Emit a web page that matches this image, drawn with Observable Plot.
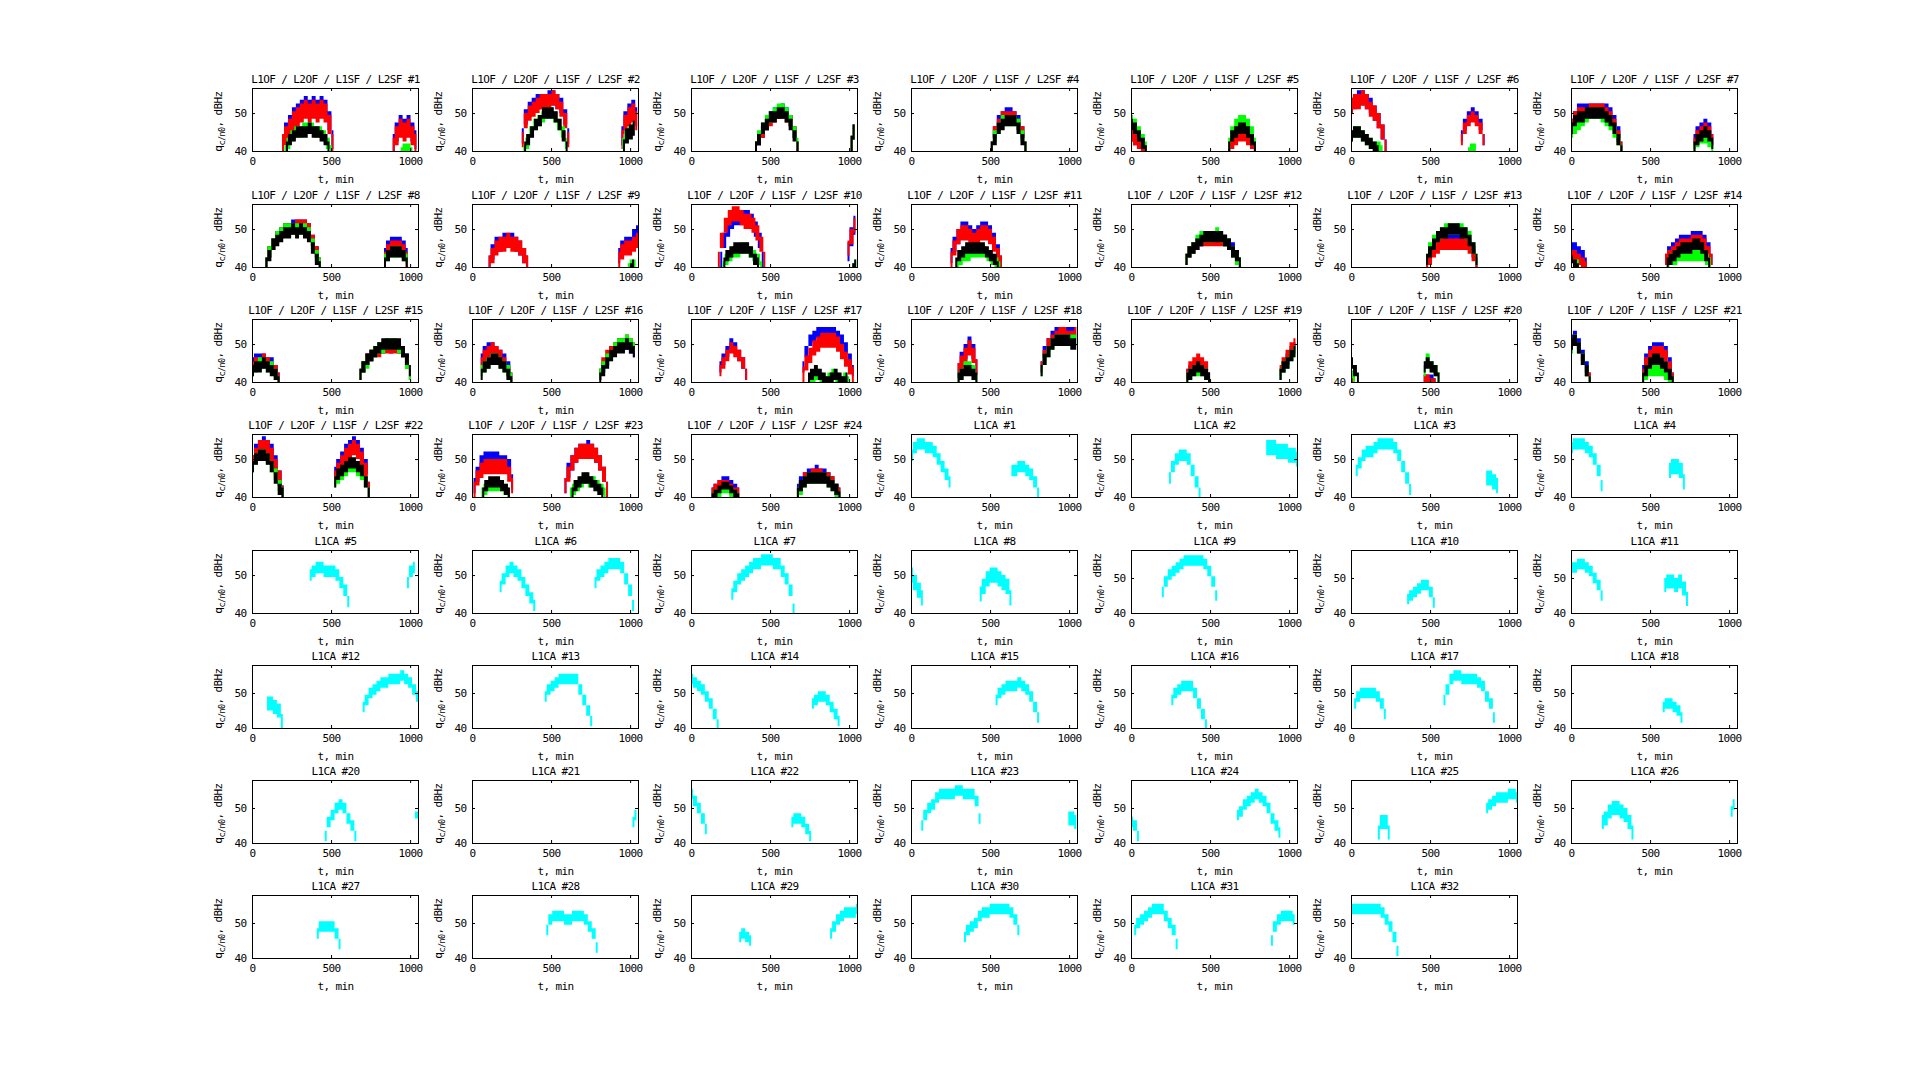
<!DOCTYPE html>
<html><head><meta charset="utf-8">
<script src="https://cdn.jsdelivr.net/npm/d3@7"></script>
<script src="https://cdn.jsdelivr.net/npm/@observablehq/plot@0.6"></script>
<style>
html,body{margin:0;padding:0;background:#fff;}
#root{position:relative;width:1920px;height:1090px;overflow:hidden;background:#fff;}
#root svg{position:absolute;overflow:visible;}
</style></head><body><div id="root"></div>
<script>
// ---------------- data ----------------
// each arc: [start time (min), noise spread (dBHz), values every STEP minutes]
const STEP = 25;
const seriesNames = ["L1OF", "L2OF", "L1SF", "L2SF"];
const seriesColors = ["#0000ff", "#ff0000", "#00ff00", "#000000"];
const caColor = "#00ffff";
const xTicks = [0, 500, 1000];
const yTicks = [40, 50];
const xDomain = [0, 1050];
const mixIds = [1,2,3,4,5,6,7,8,9,10,11,12,13,14,15,16,17,18,19,20,21,22,23,24];
const mixYMax = 56.6;
const caIds = [1,2,3,4,5,6,7,8,9,10,11,12,13,14,15,16,17,18,20,21,22,23,24,25,26,27,28,29,30,31,32];
const caYMax = [56.6,56.6,56.6,56.6,56.6,56.6,56.6,56.6,58,58,58,58,58,58,58,58,58,58,58,58,58,58,58,58,58,58,58,58,58,58,58];

const L1OF = [
 [[190,5,[42,45,47,49,50,51,52,51,52,51,52,51,48,43]],[890,5,[42,45,47,46,47,45,43]]],
 [[315,4,[44,49,51,52,53,53,53,54,54,53,52,49,44]],[945,5,[44,48,50,51,49]]],
 [[405,3,[41,43,45,47,49,50,50,51,50,48,45,41]],[1010,4,[42,45]]],
 [[505,3,[41,45,48,49,50,50,49,48,45,41]]],
 [[0,3,[44,43,42,41,40]],[615,3,[41,42,44,45,45,44,43,41]]],
 [[0,4,[52,53,54,54,53,52,50,48,45,41]],[695,3,[44,47,49,50,49,47,43]]],
 [[0,3,[47,49,51,51,51,51,51,51,51,51,50,48,45,41]],[775,3,[43,45,46,47,46,43]]],
 [[85,3,[41,44,46,48,49,50,50,51,51,51,51,50,47,44,41]],[835,4,[43,45,46,46,46,45,43]]],
 [[105,4,[41,44,46,46,47,47,47,46,45,43,41]],[925,4,[43,45,46,46,48,49]]],
 [[185,4,[42,47,50,52,53,53,53,53,52,50,47,42]],[990,5,[44,48,51]]],
 [[250,4,[43,46,48,50,50,49,48,49,50,50,49,47,44,41]]],
 [[345,3,[42,44,45,46,47,48,48,48,48,48,47,46,45,43,41]]],
 [[475,3,[41,43,45,46,47,47,47,47,47,47,47,46,44,41]]],
 [[0,3,[45,45,44,43,41]],[595,3,[42,44,45,46,47,47,47,48,48,48,47,45,42]]],
 [[0,3,[45,46,46,46,45,45,43,41]],[680,3,[42,44,46,47,48,49,49,50,49,50,49,48,46,42]]],
 [[55,3,[46,48,49,49,48,47,46,44,41]],[805,3,[42,44,46,48,49,50,50,50,49,48]]],
 [[180,3,[44,46,48,50,49,47,45,42]],[705,3,[44,48,51,52,53,53,53,53,53,52,51,49,46,43]]],
 [[295,4,[43,46,48,50,48,44]],[820,3,[44,48,50,52,53,53,53,53,53,53]]],
 [[350,3,[42,43,44,44,44,43,41]],[940,3,[42,44,46,48,49]]],
 [[0,2,[41,40]],[460,2,[41,41,41,40]]],
 [[0,3,[51,52,50,47,44,41]],[450,3,[43,46,48,49,49,49,48,45,41]]],
 [[0,4,[49,52,53,54,53,52,49,45,41]],[520,4,[46,48,50,52,53,54,53,51,48,42]]],
 [[10,4,[43,46,49,50,50,50,50,49,49,48,44]],[585,4,[43,47,49,51,52,52,53,52,51,49,46,42]]],
 [[130,3,[41,42,43,44,44,43,42,41]],[670,3,[42,44,45,46,46,47,46,46,45,44,42,41]]]
];
const L2OF = [
 [[190,5,[42,44,46,48,49,50,51,50,51,50,51,50,47,42]],[890,5,[41,44,46,45,46,44,42]]],
 [[315,4,[43,48,50,51,52,53,53,53,54,53,51,48,43]],[945,5,[43,47,49,50,48]]],
 [[405,3,[41,43,45,47,48,49,50,50,49,48,45,41]],[1010,4,[42,45]]],
 [[505,3,[41,45,47,49,49,49,49,47,45,41]]],
 [[0,3,[44,43,42,41,40]],[615,3,[41,42,43,44,44,43,42,40]]],
 [[0,4,[52,53,53,54,53,51,50,48,45,41]],[695,3,[43,46,48,49,48,46,43]]],
 [[0,3,[47,49,50,50,50,51,51,51,51,50,49,47,44,41]],[775,3,[42,44,45,46,45,43]]],
 [[85,3,[41,44,46,48,49,50,50,50,51,51,51,50,47,44,41]],[835,4,[42,44,45,45,45,44,42]]],
 [[105,4,[41,43,45,46,46,47,46,46,45,43,41]],[925,4,[42,44,45,45,46,47]]],
 [[170,4,[42,47,51,53,54,54,53,52,52,51,49,46,42]],[990,4,[45,48,51]]],
 [[250,4,[42,45,48,49,49,48,47,48,49,49,48,46,43,41]]],
 [[345,3,[42,44,45,46,47,47,47,47,47,47,47,46,44,42,41]]],
 [[475,3,[41,42,44,45,46,46,46,46,46,46,46,45,43,41]]],
 [[0,3,[43,43,42,41,40]],[595,3,[42,43,44,45,46,46,46,47,47,47,46,44,42]]],
 [[0,3,[44,45,45,46,45,44,43,41]],[680,3,[42,44,46,47,48,48,49,49,49,49,49,48,45,42]]],
 [[55,3,[45,47,48,49,48,47,45,43,41]],[805,3,[42,45,47,48,49,50,50,51,50,49]]],
 [[180,3,[43,45,47,49,48,47,45,42]],[705,4,[42,45,47,49,50,51,51,51,51,50,48,46,44,42]]],
 [[295,4,[43,45,47,49,47,44]],[820,3,[44,47,50,51,52,53,53,52,52,53]]],
 [[350,3,[42,44,45,46,45,44,41]],[940,3,[43,45,47,49,50]]],
 [[0,2,[41,41]],[460,2,[41,41,40,40]]],
 [[0,3,[50,51,49,46,43,41]],[450,3,[42,45,47,48,48,48,47,44,41]]],
 [[0,4,[49,51,53,53,53,51,48,45,41]],[520,4,[45,47,49,51,52,53,52,50,47,42]]],
 [[10,4,[42,45,47,48,48,48,48,48,48,46,43]],[585,4,[43,46,49,51,52,52,52,52,51,49,46,42]]],
 [[130,3,[41,42,43,43,43,42,41,41]],[670,3,[41,43,45,45,46,46,46,45,45,44,42,41]]]
];
const L1SF = [
 [[205,3,[40,42,44,45,45,46,46,46,45,45,44,42,40]],[940,2,[40,41,41,40]]],
 [[325,3,[40,42,45,47,48,49,50,50,49,47,45,42]],[950,3,[42,44,45,46]]],
 [[405,3,[41,44,46,48,49,50,51,51,50,48,45,42]],[1010,4,[42,45]]],
 [[505,3,[41,44,46,48,48,48,48,47,44,41]]],
 [[0,3,[48,47,45,43,41]],[615,3,[42,45,47,48,48,47,45,42]]],
 [[0,3,[44,45,45,44,43,42,41,41,40]],[740,2,[40,41,41]]],
 [[0,3,[45,46,47,48,49,50,50,50,49,48,47,45,43,40]],[775,2,[41,42,43,43,42,41]]],
 [[85,3,[41,44,46,48,49,50,50,50,50,50,50,49,46,43,41]],[835,3,[42,43,44,44,44,43,42]]],
 [[985,2,[40,41,41]]],
 [[200,3,[40,42,43,44,44,45,45,44,43,42,40]],[1020,2,[40,41]]],
 [[290,3,[41,42,43,43,44,44,44,44,43,42,41,40]]],
 [[345,3,[42,44,45,47,48,48,48,48,49,48,47,46,44,42,41]]],
 [[475,3,[42,45,47,48,49,50,50,50,50,50,49,48,45,42]]],
 [[25,2,[41,41]],[610,3,[41,42,42,43,43,43,43,43,43,43,42,41]]],
 [[0,3,[43,44,45,45,44,44,42,40]],[680,3,[42,44,45,47,48,49,49,50,50,50,49,48,45,42]]],
 [[55,3,[43,44,45,46,46,45,44,43,41]],[805,3,[42,44,46,47,49,50,50,51,50,49]]],
 [[750,3,[40,41,42,41,40,41,42,41,40,41,40]]],
 [[295,3,[41,42,44,44,43,41]],[820,3,[43,46,48,50,51,51,51,51,51,51]]],
 [[350,3,[41,42,43,43,43,42,40]],[940,3,[42,44,45,47,48]]],
 [[0,2,[42,41]],[460,3,[43,46,44,43,41]]],
 [[0,3,[49,51,49,46,43,40]],[450,3,[41,42,43,43,43,43,42,41,40]]],
 [[0,3,[48,50,51,51,50,48,46,43,41]],[520,3,[44,45,46,47,48,48,47,46,44,41]]],
 [[60,3,[41,42,43,43,43,43,42,41]],[620,3,[41,42,43,44,45,44,44,43,42,41]]],
 [[130,2,[40,41,41,42,42,41,41,40]],[670,3,[41,42,44,45,45,45,45,45,44,43,41,40]]]
];
const L2SF = [
 [[215,3,[41,43,44,45,45,45,46,45,45,44,43,41]]],
 [[330,3,[41,43,45,47,48,50,50,50,49,47,44,41]],[955,4,[41,44,45,46]]],
 [[405,3,[41,43,46,47,49,49,50,50,49,47,44,41]],[1010,4,[42,45]]],
 [[505,3,[41,43,46,47,48,48,48,46,43,41]]],
 [[0,3,[47,46,44,42,40]],[615,3,[41,44,45,46,46,45,43,41]]],
 [[0,3,[44,45,45,44,43,42,41,40]]],
 [[0,3,[46,48,49,49,50,50,50,50,50,49,48,46,43,40]],[775,3,[41,43,44,45,44,42]]],
 [[85,3,[41,43,46,47,48,49,49,50,49,50,49,48,45,42,40]],[835,3,[41,43,44,44,44,43,41]]],
 [[1000,2,[40,41]]],
 [[205,3,[41,43,44,45,45,45,45,44,42,41]],[1020,2,[40,41]]],
 [[280,3,[41,43,44,45,45,45,45,45,44,43,42,40]]],
 [[345,3,[42,44,45,46,47,48,48,48,48,48,47,46,44,43,41]]],
 [[475,3,[42,44,46,48,49,49,50,50,50,49,49,47,45,42]]],
 [[0,2,[42,41,40]],[605,3,[41,42,43,44,45,45,45,46,46,45,43,41]]],
 [[0,3,[43,44,44,45,44,43,42,40]],[680,3,[42,44,46,47,48,49,50,50,50,50,50,48,46,43]]],
 [[55,3,[42,44,45,46,46,45,44,42,40]],[805,3,[41,43,45,47,48,49,49,50,49,48]]],
 [[740,3,[41,42,43,42,41,40,41,42,41,40,41]]],
 [[295,3,[41,42,43,43,42,41]],[820,3,[43,46,48,50,51,51,51,51,50,50]]],
 [[350,3,[41,42,43,44,43,42,41]],[940,3,[42,44,45,47,48]]],
 [[0,3,[45,43,41]],[460,3,[44,45,44,43,41]]],
 [[0,3,[50,51,49,46,43,40]],[450,3,[41,43,45,46,46,45,44,42,40]]],
 [[0,3,[48,50,51,51,50,48,45,42,41]],[520,3,[44,46,47,48,49,49,48,47,44,41]]],
 [[65,3,[41,43,44,44,44,43,42,41]],[630,3,[41,43,44,45,45,44,43,42,41]]],
 [[130,2,[40,41,42,43,43,42,41,40]],[670,3,[41,43,44,45,45,45,45,45,44,43,42,40]]]
];
const L1CA = [
 [[0,3,[51,53,54,54,53,53,52,50,48,46,44]],[635,3,[47,47,48,48,47,46,44,41]]],
 [[240,3,[45,48,50,51,51,50,47,44,41]],[855,4,[53,53,53,52,52,52,51,51,50]]],
 [[30,3,[47,49,51,52,52,53,54,54,54,54,53,51,48,45,42]],[855,4,[45,45,44,43]]],
 [[0,3,[53,54,54,54,53,52,50,47,43]],[620,4,[47,48,48,47,44]]],
 [[365,3,[50,51,52,52,51,51,51,50,48,46,43]],[980,3,[48,51,52]]],
 [[175,3,[47,49,51,52,51,50,48,46,44,42]],[775,3,[48,50,51,52,53,53,53,52,49,46,42]]],
 [[255,3,[45,47,49,50,51,52,53,53,54,54,54,53,53,51,49,46,41]]],
 [[0,4,[50,48,46,44]],[435,4,[45,47,49,50,50,49,48,47,44]]],
 [[195,3,[46,49,51,52,53,54,55,55,55,55,55,54,52,49,45]]],
 [[355,3,[44,45,46,47,48,48,46,43]]],
 [[0,3,[53,53,54,54,53,52,50,48,45]],[590,4,[48,49,49,48,49,47,44]]],
 [[95,4,[47,47,46,45,42]],[700,3,[46,48,50,51,52,53,53,54,54,54,55,54,53,51,49]]],
 [[460,3,[49,51,52,53,54,54,54,54,54,51,48,45,42]]],
 [[0,3,[54,53,52,51,49,47,44,41]],[765,3,[47,48,49,49,48,46,44,42]]],
 [[535,3,[48,50,51,52,52,52,53,52,51,49,46,43]]],
 [[255,3,[48,50,51,52,52,52,50,47,44,41]]],
 [[20,3,[47,49,50,50,50,50,49,47,44]],[585,3,[48,51,54,55,55,54,54,54,54,53,52,49,47,43]]],
 [[580,3,[46,47,47,46,45,43]]],
 [[460,3,[42,46,48,50,51,50,47,45,42]],[1030,2,[48,48]]],
 [[1015,3,[46,48]]],
 [[0,3,[54,52,50,47,44]],[635,3,[46,47,47,46,44,42]]],
 [[65,3,[45,48,50,51,53,54,54,54,54,55,55,54,54,54,52,47]],[995,4,[47,47,46]]],
 [[0,3,[46,45,42]],[670,3,[48,49,51,52,53,54,53,52,50,47,45,43]]],
 [[170,4,[43,46,46,43]],[855,3,[50,51,52,53,53,53,54,54,53]]],
 [[195,4,[46,47,49,50,50,49,48,46,43]],[1010,3,[49,51]]],
 [[410,3,[47,49,49,49,49,47,44]]],
 [[470,3,[48,51,52,52,52,51,51,52,52,52,51,49,47,43]]],
 [[305,3,[46,47,46,45]],[880,3,[47,49,51,52,53,53,53,54]]],
 [[335,3,[46,48,49,50,52,53,53,54,54,54,54,54,53,51,48]]],
 [[20,3,[48,50,51,52,53,54,54,54,52,50,48,44]],[885,3,[45,49,51,52,52,52,51]]],
 [[0,3,[54,54,54,54,54,54,54,54,53,51,49,46,42]]]
];

// ---------------- layout ----------------
const COLS = 7, X0 = 251.7, DX = 219.8, Y0 = 88.3, DY = 115.3;
const W = 166, H = 63, ML = 42, MR = 14, MT = 22, MB = 38;
const FONT = "'DejaVu Sans Mono','Liberation Mono',monospace";
const FS = 11;
const root = document.getElementById("root");

function rows(arcs) {
  const out = [];
  arcs.forEach(([t0, s, vals], k) => vals.forEach((v, i) =>
    out.push({t: t0 + STEP * i, lo: v - s / 2, hi: v + s / 2, arc: k})));
  return out;
}

function panel(idx, title, series, ymax) {
  const r = Math.floor(idx / COLS), c = idx % COLS;
  const marks = [];
  for (const [arcs, color] of series) {
    marks.push(Plot.areaY(rows(arcs), {x: "t", y1: "lo", y2: "hi", z: "arc", fill: color, curve: "step", clip: true}));
  }
  marks.push(
    Plot.frame({stroke: "black", strokeWidth: 1}),
    Plot.tickX(xTicks, {x: d => d, insetTop: H - 3, stroke: "black"}),
    Plot.tickX(xTicks, {x: d => d, insetBottom: H - 3, stroke: "black"}),
    Plot.tickY(yTicks, {y: d => d, insetRight: W - 3, stroke: "black"}),
    Plot.tickY(yTicks, {y: d => d, insetLeft: W - 3, stroke: "black"}),
    Plot.axisX(xTicks, {tickSize: 0, tickPadding: 6, label: null, fill: "black", fontSize: FS, tickFormat: d => String(d)}),
    Plot.axisY(yTicks, {tickSize: 0, tickPadding: 6, label: null, fill: "black", fontSize: FS, tickFormat: d => String(d)}),
    Plot.text([title], {frameAnchor: "top", lineAnchor: "bottom", dy: -6, text: d => d, fill: "black", fontSize: FS}),
    Plot.text(["t, min"], {frameAnchor: "bottom", lineAnchor: "bottom", dy: 31, text: d => d, fill: "black", fontSize: FS})
  );
  const svg = Plot.plot({
    width: ML + W + MR, height: MT + H + MB,
    marginLeft: ML, marginRight: MR, marginTop: MT, marginBottom: MB,
    x: {domain: xDomain},
    y: {domain: [40, ymax]},
    style: {fontFamily: FONT, fontSize: FS + "px", letterSpacing: "-0.6px", background: "transparent", color: "black", overflow: "visible"},
    marks
  });
  svg.style.left = (X0 + c * DX - ML) + "px";
  svg.style.top = (Y0 + r * DY - MT) + "px";
  const t = d3.select(svg).append("text")
    .attr("transform", `translate(${ML - 30},${MT + H / 2 + 2}) rotate(-90)`)
    .attr("text-anchor", "middle").attr("font-family", FONT).attr("font-size", FS).attr("fill", "black");
  t.append("tspan").text("q");
  t.append("tspan").attr("dy", 3).attr("font-size", 8.5).text("c/n0");
  t.append("tspan").attr("dy", -3).text(", dBHz");
  root.appendChild(svg);
}

let idx = 0;
mixIds.forEach((id, i) => {
  const title = seriesNames.join(" / ") + " #" + id;
  const series = [[L1OF[i], seriesColors[0]], [L2OF[i], seriesColors[1]], [L1SF[i], seriesColors[2]], [L2SF[i], seriesColors[3]]];
  panel(idx++, title, series, mixYMax);
});
caIds.forEach((id, i) => {
  panel(idx++, "L1CA #" + id, [[L1CA[i], caColor]], caYMax[i]);
});
</script>
</body></html>
